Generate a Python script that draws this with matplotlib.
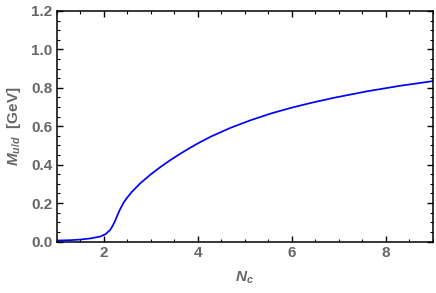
import matplotlib
matplotlib.use("Agg")
import matplotlib.pyplot as plt
from matplotlib.ticker import MultipleLocator, FormatStrFormatter

# values
nc = [1.0, 1.3, 1.5, 1.72, 1.93, 2.04, 2.14, 2.2, 2.25, 2.3, 2.36, 2.43, 2.5,
      2.6, 2.78, 3.0, 3.21, 3.42, 3.63, 3.84, 4.02, 4.27, 4.7, 5.12, 5.55,
      5.97, 6.38, 6.89, 7.6, 8.31, 9.0]
mass = [0.005, 0.007, 0.010, 0.016, 0.026, 0.038, 0.060, 0.085, 0.110, 0.140,
        0.172, 0.204, 0.228, 0.258, 0.303, 0.349, 0.388, 0.424, 0.457, 0.488,
        0.513, 0.545, 0.592, 0.631, 0.666, 0.695, 0.720, 0.748, 0.782, 0.811,
        0.835]

plt.rcParams["font.family"] = ["Liberation Sans", "DejaVu Sans"]
plt.rcParams["mathtext.fontset"] = "custom"
plt.rcParams["mathtext.it"] = "Liberation Sans:italic:bold"
plt.rcParams["mathtext.rm"] = "Liberation Sans:bold"

gray = "#666666"

fig = plt.figure(figsize=(4.36, 2.93), dpi=100)
ax = fig.add_axes([56.5 / 436, 1 - 241.5 / 293, (433 - 56.5) / 436, (241.5 - 11) / 293])

ax.plot(nc, mass, color="#0000ff", lw=1.25)

ax.set_xlim(1, 9)
ax.set_ylim(0, 1.2)
ax.xaxis.set_major_locator(MultipleLocator(2))
ax.xaxis.set_minor_locator(MultipleLocator(0.5))
ax.yaxis.set_major_locator(MultipleLocator(0.2))
ax.yaxis.set_minor_locator(MultipleLocator(0.05))
ax.yaxis.set_major_formatter(FormatStrFormatter("%.1f"))

for s in ax.spines.values():
    s.set_linewidth(1.1)
ax.tick_params(which="both", direction="in", top=True, right=True,
               labelcolor=gray, labelsize=11, color="black")
ax.tick_params(which="major", length=4, width=1.0, pad=3)
ax.tick_params(which="minor", length=2, width=0.8)
for lab in ax.get_xticklabels() + ax.get_yticklabels():
    lab.set_fontweight("bold")

ax.set_xlabel(r"$N_c$", color=gray, fontsize=11, labelpad=7)
ax.set_ylabel(r"$M_{u/d}$  [GeV]", color=gray, fontsize=11, fontweight="bold", labelpad=6)

plt.savefig("out.png", dpi=100)
plt.close()
